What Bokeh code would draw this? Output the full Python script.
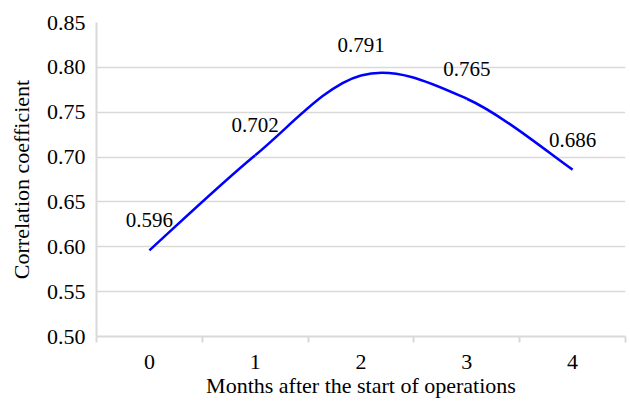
from bokeh.plotting import figure
from bokeh.models import Range1d, FixedTicker, ColumnDataSource
from bokeh.embed import file_html
from bokeh.resources import INLINE
from bokeh.core.properties import value

months = [0, 1, 2, 3, 4]
month_labels = ["0", "1", "2", "3", "4"]
corr = [0.596, 0.702, 0.791, 0.765, 0.686]
corr_labels = ["0.596", "0.702", "0.791", "0.765", "0.686"]
y_ticks = [0.50, 0.55, 0.60, 0.65, 0.70, 0.75, 0.80, 0.85]

FONT = "'Liberation Serif'"
FS = "22px"

p = figure(width=630, height=403, output_backend="svg", toolbar_location=None,
           x_range=Range1d(-0.5, 4.5), y_range=Range1d(0.50, 0.85))
p.min_border_left = 96
p.min_border_right = 5
p.min_border_top = 22
p.min_border_bottom = 67
p.outline_line_color = None
p.background_fill_color = "white"
p.border_fill_color = "white"

# smooth curve (Catmull-Rom style bezier segments through the data points)
n = len(months)
x0, y0, x1, y1, cx0, cy0, cx1, cy1 = [], [], [], [], [], [], [], []
for i in range(n - 1):
    pa = (months[max(i - 1, 0)], corr[max(i - 1, 0)])
    pb = (months[i], corr[i])
    pc = (months[i + 1], corr[i + 1])
    pd = (months[min(i + 2, n - 1)], corr[min(i + 2, n - 1)])
    x0.append(pb[0]); y0.append(pb[1])
    x1.append(pc[0]); y1.append(pc[1])
    cx0.append(pb[0] + (pc[0] - pa[0]) / 6.0)
    cy0.append(pb[1] + (pc[1] - pa[1]) / 6.0)
    cx1.append(pc[0] - (pd[0] - pb[0]) / 6.0)
    cy1.append(pc[1] - (pd[1] - pb[1]) / 6.0)
p.bezier(x0=x0, y0=y0, x1=x1, y1=y1, cx0=cx0, cy0=cy0, cx1=cx1, cy1=cy1,
         line_color="#0000FF", line_width=2.5)

src = ColumnDataSource(dict(x=months, y=corr, t=corr_labels))
p.text(x="x", y="y", text="t", source=src, y_offset=-30,
       text_align="center", text_baseline="middle",
       text_font=value(FONT), text_font_size="21px", text_color="black")

# y axis
p.yaxis.ticker = FixedTicker(ticks=y_ticks)
p.yaxis.major_label_overrides = {t: f"{t:.2f}" for t in y_ticks}
p.yaxis.major_tick_line_color = None
p.yaxis.major_tick_out = 0
p.yaxis.major_tick_in = 0
p.yaxis.minor_tick_line_color = None
p.yaxis.axis_line_color = "#D9D9D9"
p.yaxis.axis_line_width = 2
p.yaxis.major_label_standoff = 11
p.yaxis.major_label_text_font = FONT
p.yaxis.major_label_text_font_size = FS
p.yaxis.major_label_text_color = "black"
p.yaxis.axis_label = "Correlation coefficient"
p.yaxis.axis_label_text_font = FONT
p.yaxis.axis_label_text_font_size = FS
p.yaxis.axis_label_text_font_style = "normal"
p.yaxis.axis_label_text_color = "black"
p.yaxis.axis_label_standoff = 10

# x axis
p.xaxis.ticker = FixedTicker(ticks=months, minor_ticks=[m - 0.5 for m in months] + [months[-1] + 0.5])
p.xaxis.major_label_overrides = {m: l for m, l in zip(months, month_labels)}
p.xaxis.major_tick_line_color = None
p.xaxis.major_tick_out = 0
p.xaxis.major_tick_in = 0
p.xaxis.minor_tick_line_color = "#D9D9D9"
p.xaxis.minor_tick_line_width = 2
p.xaxis.minor_tick_out = 6
p.xaxis.minor_tick_in = 0
p.xaxis.axis_line_color = "#D9D9D9"
p.xaxis.axis_line_width = 2
p.xaxis.major_label_standoff = 12
p.xaxis.major_label_text_font = FONT
p.xaxis.major_label_text_font_size = FS
p.xaxis.major_label_text_color = "black"
p.xaxis.axis_label = "Months after the start of operations"
p.xaxis.axis_label_text_font = FONT
p.xaxis.axis_label_text_font_size = FS
p.xaxis.axis_label_text_font_style = "normal"
p.xaxis.axis_label_text_color = "black"
p.xaxis.axis_label_standoff = 1

p.xgrid.grid_line_color = None
p.ygrid.ticker = FixedTicker(ticks=y_ticks)
p.ygrid.grid_line_color = "#D9D9D9"
p.ygrid.grid_line_width = 1.5

open("out.html", "w").write(file_html(p, INLINE))
